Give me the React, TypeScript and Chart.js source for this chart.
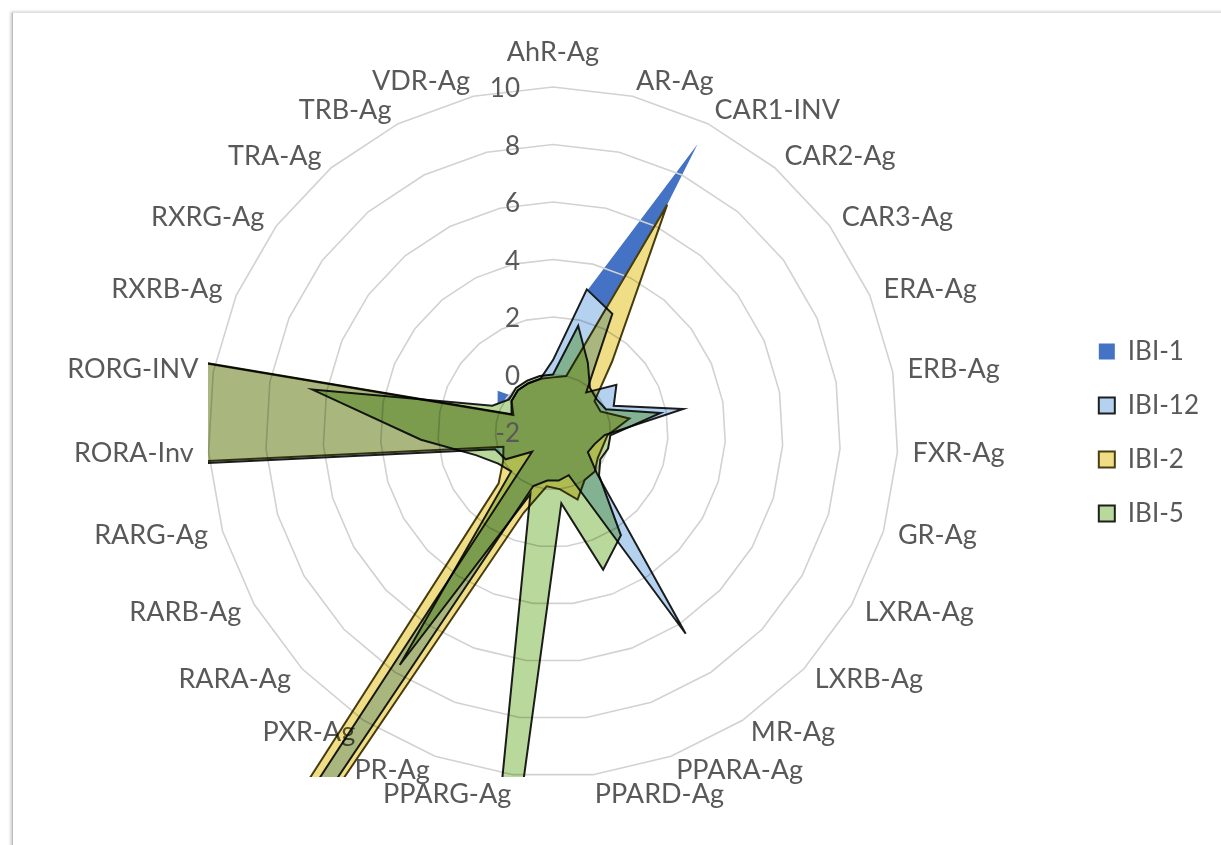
import React, { useEffect, useRef } from 'react';
import { Chart, registerables } from 'chart.js';

// ---------------- data ----------------
const categories = [
  'AhR-Ag', 'AR-Ag', 'CAR1-INV', 'CAR2-Ag', 'CAR3-Ag', 'ERA-Ag', 'ERB-Ag', 'FXR-Ag', 'GR-Ag',
  'LXRA-Ag', 'LXRB-Ag', 'MR-Ag', 'PPARA-Ag', 'PPARD-Ag', 'PPARG-Ag', 'PR-Ag', 'PXR-Ag',
  'RARA-Ag', 'RARB-Ag', 'RARG-Ag', 'RORA-Inv', 'RORG-INV', 'RXRB-Ag', 'RXRG-Ag', 'TRA-Ag',
  'TRB-Ag', 'VDR-Ag',
];

const seriesNames = ['IBI-1', 'IBI-12', 'IBI-2', 'IBI-5'];

const ibi1 = [
  -0.8, 3.0, 9.2, -2.0, -1.5, -1.5, -1.3, -1.3, -1.5, -1.5, -1.3, -1.2, -1.3, -1.3,
  -1.3, -1.3, -1.0, -1.3, -1.3, -1.0, -0.8, -0.3, 0.1, 0.4, -0.6, -0.8, -0.8,
];
const ibi12 = [
  0.5, 3.1, 2.6, -0.2, 0.75, 0.3, 2.6, -0.2, -0.5, -0.6, 0.1, 6.4, -0.4, -0.3,
  -0.3, 0.0, 50, -1.0, -0.1, 0.1, 46, 42, -0.43, -0.2, -0.1, -0.1, -0.1,
];
const ibi2 = [
  -0.1, 0.0, 6.85, 1.2, -0.2, -0.2, 0.7, -0.1, -0.2, -0.2, 0.0, 0.0, 0.5, 0.0,
  -0.1, 1.0, 50, 0.6, 0.0, -0.2, 40, 40, -0.5, -0.2, -0.1, -0.1, -0.1,
];
const ibi5 = [
  0.0, 1.8, 0.7, 0.0, -0.1, 0.0, 1.8, 0.0, 0.0, -0.1, 0.2, 2.3, 3.1, 0.5,
  30, 0.3, 7.7, 0.0, 0.2, 0.8, 2.6, 6.5, 0.3, -0.1, 0.0, 0.0, 0.0,
];

const axisMin = -2;
const axisMax = 10;
const axisStep = 2;

// ---------------- style ----------------
const FONT = 'Lato, "Liberation Sans", sans-serif';
const TEXT = '#595959';
const CENTER_X = 553;
const CENTER_Y = 432;
const RADIUS = 345;

const fills = ['#4472C4', 'rgb(180,210,240)', 'rgb(240,222,135)', 'rgb(185,216,155)'];
const borders = ['rgba(0,0,0,0)', '#1e1e1e', '#4a3f12', '#1e1e1e'];
const borderWidths = [0, 2, 2, 2];

// blend layers: others multiply, first series goes behind everything
const layerPlugin = {
  id: 'layerBlend',
  beforeDatasetDraw(chart: any, args: any) {
    const s = chart.scales.r;
    const ctx = chart.ctx;
    ctx.save();
    const R = s.drawingArea;
    ctx.beginPath();
    ctx.rect(s.xCenter - R, s.yCenter - R, 2 * R, 2 * R);
    ctx.clip();
    ctx.globalCompositeOperation = args.index === 0 ? 'destination-over' : 'multiply';
  },
  afterDatasetDraw(chart: any) {
    chart.ctx.restore();
  },
};

Chart.register(layerPlugin, ...registerables);

const textPlugin = {
  id: 'radarText',
  beforeDatasetsDraw(chart: any) {
    const s = chart.scales.r;
    const ctx = chart.ctx;
    ctx.save();
    ctx.font = `27px ${FONT}`;
    ctx.fillStyle = TEXT;
    ctx.textBaseline = 'middle';
    categories.forEach((lab, i) => {
      const ang = s.getIndexAngle(i);
      const sin = Math.sin(ang);
      const cos = Math.cos(ang);
      const p = s.getPointPosition(i, s.drawingArea + 15);
      let y = p.y;
      let align: CanvasTextAlign = 'center';
      if (Math.abs(sin) < 0.01) {
        align = 'center';
        y += cos > 0 ? -20 : 20;
      } else {
        align = sin > 0 ? 'left' : 'right';
        if (Math.abs(sin) < 0.2) y += cos < 0 ? 5 : -3;
      }
      ctx.textAlign = align;
      ctx.fillText(lab, p.x, y);
    });
    ctx.restore();
  },
  afterDatasetsDraw(chart: any) {
    const s = chart.scales.r;
    const ctx = chart.ctx;
    ctx.save();
    ctx.font = `26px ${FONT}`;
    ctx.fillStyle = TEXT;
    ctx.textAlign = 'right';
    ctx.textBaseline = 'middle';
    s.ticks.forEach((t: any) => {
      const d = s.getDistanceFromCenterForValue(t.value);
      ctx.fillText(String(t.value), s.xCenter - 33, s.yCenter - d + 2);
    });
    ctx.restore();
  },
};

export default function App() {
  const ref = useRef<HTMLCanvasElement>(null);
  useEffect(() => {
    if (!ref.current) return;
    const series = [ibi1, ibi12, ibi2, ibi5];
    const chart = new Chart(ref.current, {
      type: 'radar',
      data: {
        labels: categories,
        datasets: series.map((d, i) => ({
          label: seriesNames[i],
          data: d,
          backgroundColor: fills[i],
          borderColor: borders[i],
          borderWidth: borderWidths[i],
          fill: 'start',
          pointRadius: 0,
          pointHoverRadius: 0,
        })),
      },
      options: {
        responsive: false,
        animation: false,
        events: [],
        layout: { padding: { top: 20, right: 12, bottom: 0, left: 0 } },
        elements: { line: { tension: 0, borderJoinStyle: 'miter' } },
        scales: {
          r: {
            min: axisMin,
            max: axisMax,
            ticks: { stepSize: axisStep, display: false },
            grid: { color: '#d2d2d2', lineWidth: 1.6 },
            angleLines: { display: false },
            pointLabels: { display: false },
            afterFit: (s: any) => {
              s.xCenter = CENTER_X;
              s.yCenter = CENTER_Y;
              s.drawingArea = RADIUS;
            },
          },
        },
        plugins: {
          legend: {
            position: 'right',
            labels: {
              font: { family: FONT, size: 26 },
              color: TEXT,
              boxWidth: 16,
              boxHeight: 16,
              padding: 28,
            },
          },
          tooltip: { enabled: false },
        },
      } as any,
      plugins: [textPlugin],
    });
    return () => chart.destroy();
  }, []);

  return (
    <div style={{ position: 'fixed', left: 0, top: 0, width: 1221, height: 845, background: '#fff', overflow: 'hidden' }}>
      <div
        style={{
          position: 'absolute', left: 12, top: 12, width: 1260, height: 900,
          borderTop: '1px solid #e2e2e2', borderLeft: '1px solid #bdbdbd',
          boxShadow: '-1px 0 3px rgba(0,0,0,0.25)', background: '#fff',
        }}
      />
      <canvas ref={ref} width={1221} height={845} style={{ position: 'absolute', left: 0, top: 0 }} />
    </div>
  );
}
